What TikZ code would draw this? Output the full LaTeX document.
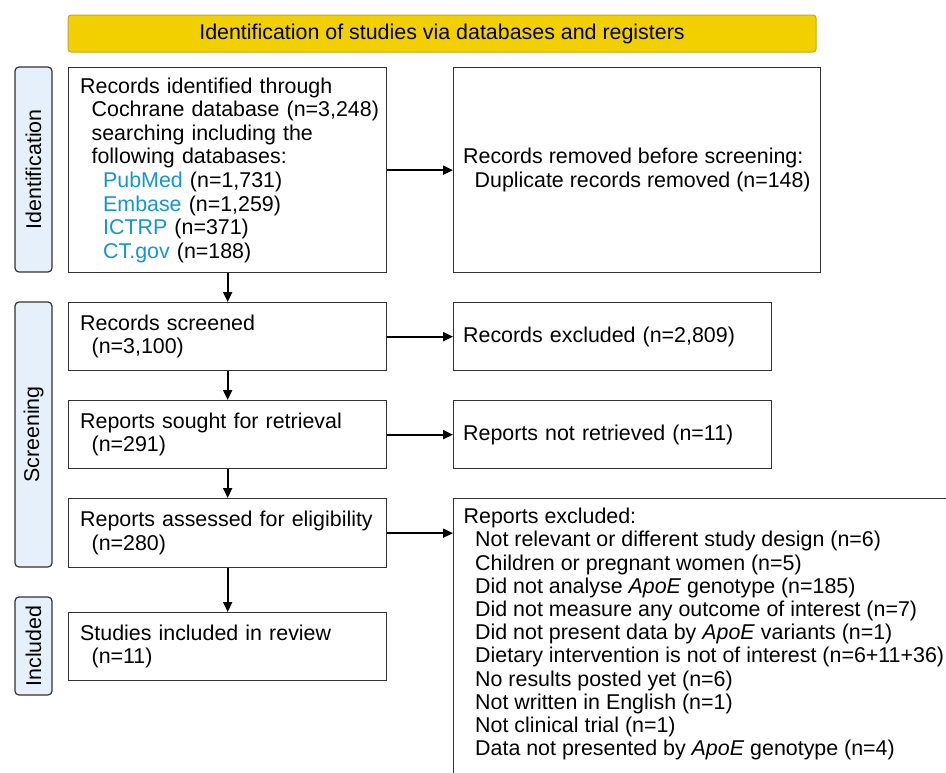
\documentclass[tikz,border=0pt]{standalone}
\usepackage{fontspec}
\setmainfont{Liberation Sans}
\usetikzlibrary{arrows.meta}
\definecolor{gold}{RGB}{242,208,0}
\definecolor{goldline}{RGB}{200,165,40}
\definecolor{sidefill}{RGB}{230,240,250}
\definecolor{linkblue}{RGB}{20,150,210}
\definecolor{boxline}{RGB}{50,50,50}
\newcommand{\ind}{\hspace*{11.5pt}}
\newcommand{\lb}[1]{\textcolor{linkblue}{#1}}
\begin{document}
\begin{tikzpicture}[x=1pt,y=-1pt,
  font=\fontsize{21.4}{23.6}\selectfont,
  box/.style={draw=boxline, line width=1.3pt, align=left, anchor=north west,
    inner xsep=11.5pt, inner ysep=0pt},
  rbox/.style={draw=boxline, line width=1.3pt, align=left, anchor=north west,
    inner xsep=9.5pt, inner ysep=0pt},
  side/.style={draw=boxline, line width=1.2pt, fill=sidefill, rounded corners=4pt,
    rotate=90, minimum height=37pt, inner sep=0pt},
  arr/.style={line width=1.8pt, -{Triangle[length=10pt,width=9pt]}}]
\useasboundingbox (0,0) rectangle (946,772);
\clip (0,0) rectangle (946,772);
\fill[white] (0,0) rectangle (946,772);

% banner
\node[draw=goldline, line width=1pt, fill=gold, rounded corners=3pt,
  minimum width=748pt, minimum height=37pt, inner sep=0pt] (banner) at (442,33.5)
  {Identification of studies via databases and registers};

% side labels
\node[side, minimum width=205pt] (sid) at (33.5,169.5) {Identification};
\node[side, minimum width=265pt] (sscr) at (33.5,434.5) {Screening};
\node[side, minimum width=98pt] (sinc) at (33.5,646) {Included};

% left column
\node[box, minimum width=318pt, minimum height=205pt, text width=295pt] (rid) at (68,67)
 {\mbox{Records identified through}\\
  \mbox{\ind Cochrane database (n=3,248)}\\
  \mbox{\ind searching including the}\\
  \mbox{\ind following databases:}\\
  \ind\ind \lb{PubMed} (n=1,731)\\
  \ind\ind \lb{Embase} (n=1,259)\\
  \ind\ind \lb{ICTRP} (n=371)\\
  \ind\ind \lb{CT.gov} (n=188)};
\node[box, minimum width=318pt, minimum height=68pt, text width=295pt] (rscr) at (68,302)
 {Records screened\\ \ind (n=3,100)};
\node[box, minimum width=318pt, minimum height=68pt, text width=295pt] (rsou) at (68,400)
 {Reports sought for retrieval\\ \ind (n=291)};
\node[box, minimum width=318pt, minimum height=69pt, text width=295pt] (rass) at (68,498)
 {\mbox{Reports assessed for eligibility}\\ \ind (n=280)};
\node[box, minimum width=318pt, minimum height=68pt, text width=295pt] (sinr) at (68,612)
 {Studies included in review\\ \ind (n=11)};

% right column
\node[rbox, minimum width=363pt, minimum height=205pt] (rrem) at (453,67)
 {Records removed before screening:\\ \ind Duplicate records removed (n=148)};
\node[rbox, minimum width=318pt, minimum height=68pt, text width=299pt] (rexc) at (453,302)
 {Records excluded (n=2,809)};
\node[rbox, minimum width=318pt, minimum height=68pt, text width=299pt] (rnot) at (453,400)
 {Reports not retrieved (n=11)};
\node[draw=boxline, line width=1.3pt, anchor=north west, minimum width=600pt,
  minimum height=400pt, inner sep=0pt] (repx) at (453,498) {};
\node[anchor=north west, align=left, inner sep=0pt,
  font=\fontsize{21.4}{23.2}\selectfont] (repxt) at (463.5,508)
 {Reports excluded:\\
  \ind Not relevant or different study design (n=6)\\
  \ind Children or pregnant women (n=5)\\
  \ind Did not analyse \textit{ApoE} genotype (n=185)\\
  \ind Did not measure any outcome of interest (n=7)\\
  \ind Did not present data by \textit{ApoE} variants (n=1)\\
  \ind Dietary intervention is not of interest (n=6+11+36)\\
  \ind No results posted yet (n=6)\\
  \ind Not written in English (n=1)\\
  \ind Not clinical trial (n=1)\\
  \ind Data not presented by \textit{ApoE} genotype (n=4)};

% arrows
\draw[arr] (rid.south) -- (rscr.north);
\draw[arr] (rscr.south) -- (rsou.north);
\draw[arr] (rsou.south) -- (rass.north);
\draw[arr] (rass.south) -- (sinr.north);
\draw[arr] (rid.east) -- (rrem.west);
\draw[arr] (rscr.east) -- (rexc.west);
\draw[arr] (rsou.east) -- (rnot.west);
\draw[arr] (rass.east) -- (rass.east -| repx.west);
\end{tikzpicture}
\end{document}
